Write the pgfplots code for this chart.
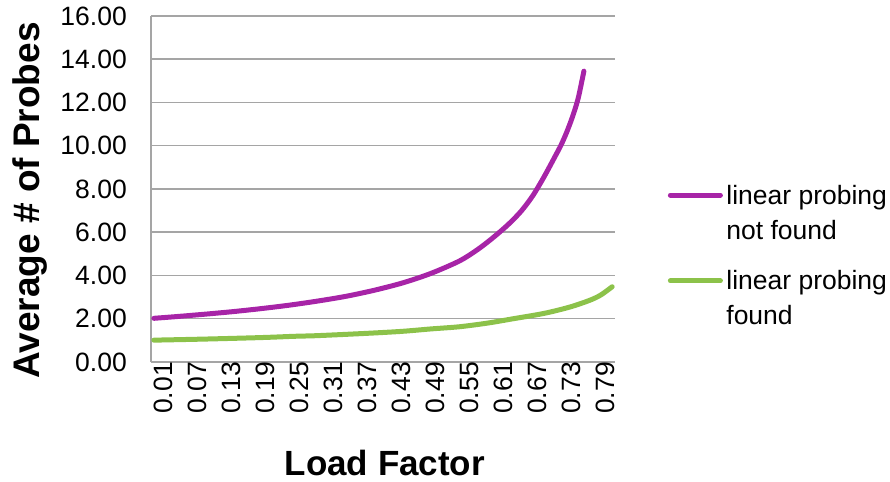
\documentclass[border=0pt]{standalone}
\usepackage{pgfplots}
\pgfplotsset{compat=1.18}
\usepackage{pgfplotstable}
\usepackage{fontspec}
\setmainfont{Liberation Sans}
\definecolor{cpurple}{RGB}{167,36,167}
\definecolor{cgreen}{RGB}{140,194,74}
\definecolor{cgrid}{RGB}{165,165,165}

\pgfplotstableread{
a v
0.01 2.02
0.05 2.10
0.10 2.21
0.15 2.33
0.20 2.47
0.25 2.63
0.30 2.82
0.35 3.04
0.40 3.32
0.45 3.66
0.50 4.10
0.55 4.67
0.58 5.16
0.60 5.55
0.62 5.98
0.64 6.45
0.66 7.00
0.68 7.70
0.70 8.58
0.72 9.55
0.73 10.05
0.74 10.65
0.75 11.35
0.76 12.20
0.77 13.45
}\notfound

\pgfplotstableread{
a v
0.01 1.01
0.10 1.06
0.20 1.13
0.26 1.19
0.30 1.22
0.39 1.33
0.45 1.42
0.50 1.53
0.55 1.63
0.60 1.80
0.645 2.00
0.70 2.25
0.745 2.54
0.78 2.85
0.80 3.10
0.82 3.48
}\found

\begin{document}
\begin{tikzpicture}
\path[use as bounding box] (0,0) rectangle (890bp,482bp);
\begin{axis}[
  at={(151bp,120bp)}, anchor=south west,
  scale only axis,
  width=464bp, height=346bp,
  xmin=0.005, xmax=0.825,
  ymin=0, ymax=16,
  xtick={0.01,0.07,0.13,0.19,0.25,0.31,0.37,0.43,0.49,0.55,0.61,0.67,0.73,0.79},
  ytick={0,2,4,6,8,10,12,14,16},
  axis x line*=bottom, axis y line*=left,
  axis line style={cgrid, line width=1.5bp},
  major tick length=0pt,
  ymajorgrids,
  grid style={cgrid, line width=1.5bp},
  /pgf/number format/assume math mode=true,
  xticklabel={\pgfmathprintnumber[fixed,fixed zerofill,precision=2]{\tick}},
  yticklabel={\pgfmathprintnumber[fixed,fixed zerofill,precision=2]{\tick}},
  tick label style={font=\fontsize{26.5bp}{30bp}\selectfont, text=black},
  xticklabel style={rotate=90, anchor=east, inner sep=0pt, yshift=-10bp},
  yticklabel style={anchor=east, inner sep=0pt, xshift=-24bp},
  xlabel={Load Factor},
  ylabel={Average \# of Probes},
  label style={inner sep=0pt},
  xlabel style={font=\fontsize{35bp}{38bp}\selectfont\bfseries,
    at={(axis description cs:0.504,-0.292)}, anchor=center},
  ylabel style={font=\fontsize{37bp}{40bp}\selectfont\bfseries,
    at={(axis description cs:-0.261,0.467)}, anchor=center, rotate=0},
  legend style={at={(axis description cs:1.114,0.512)}, anchor=north west,
    draw=none, fill=none, inner sep=0pt, outer sep=0pt,
    font=\fontsize{26.5bp}{35bp}\selectfont, row sep=30bp, column sep=3.5bp,
    nodes={inner sep=0bp}},
  legend cell align=left,
  legend image code/.code={\draw[#1, line cap=round] (2.5bp,17.5bp) -- (52.5bp,17.5bp);},
  cells={align=left},
]
\addplot[cpurple, line width=5bp, smooth, line cap=round] table[x=a,y=v] {\notfound};
\addlegendentry{linear probing\\not found}
\addplot[cgreen, line width=5bp, smooth, line cap=round] table[x=a,y=v] {\found};
\addlegendentry{linear probing\\found}
\end{axis}
\end{tikzpicture}
\end{document}
